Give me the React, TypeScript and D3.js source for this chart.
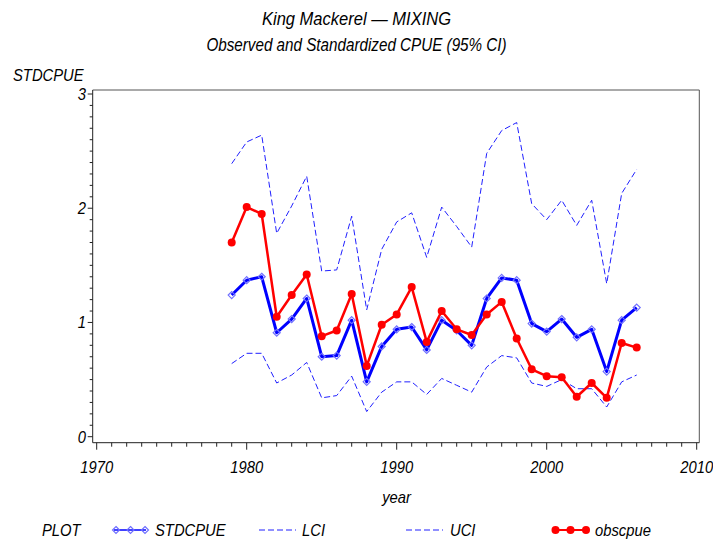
import React from 'react';
import * as d3 from 'd3';

const years = [1979, 1980, 1981, 1982, 1983, 1984, 1985, 1986, 1987, 1988, 1989, 1990, 1991, 1992,
  1993, 1994, 1995, 1996, 1997, 1998, 1999, 2000, 2001, 2002, 2003, 2004, 2005, 2006];
const stdcpue = [1.24, 1.37, 1.40, 0.91, 1.03, 1.21, 0.70, 0.71, 1.02, 0.48, 0.79, 0.94, 0.96, 0.76,
  1.02, 0.93, 0.80, 1.21, 1.39, 1.37, 0.99, 0.92, 1.03, 0.87, 0.94, 0.57, 1.02, 1.13];
const lci = [0.64, 0.73, 0.73, 0.47, 0.54, 0.65, 0.34, 0.36, 0.53, 0.22, 0.39, 0.48, 0.48, 0.37,
  0.51, 0.45, 0.39, 0.61, 0.71, 0.69, 0.47, 0.44, 0.50, 0.42, 0.42, 0.26, 0.48, 0.54];
const uci = [2.39, 2.58, 2.64, 1.78, 2.02, 2.28, 1.45, 1.46, 1.93, 1.11, 1.64, 1.88, 1.96, 1.57,
  2.01, 1.84, 1.66, 2.48, 2.68, 2.75, 2.04, 1.90, 2.07, 1.85, 2.07, 1.34, 2.13, 2.34];
const obscpue = [1.70, 2.01, 1.95, 1.05, 1.24, 1.42, 0.88, 0.93, 1.25, 0.62, 0.98, 1.07, 1.31, 0.83,
  1.10, 0.94, 0.89, 1.07, 1.18, 0.86, 0.59, 0.53, 0.52, 0.35, 0.47, 0.34, 0.82, 0.78];
const xTicks = [1970, 1980, 1990, 2000, 2010];
const yTicks = [0, 1, 2, 3];
const titleText = 'King Mackerel \u2014 MIXING';
const subtitleText = 'Observed and Standardized CPUE (95% CI)';
const yLabel = 'STDCPUE';
const xLabel = 'year';
const legendItems = ['STDCPUE', 'LCI', 'UCI', 'obscpue'];

const FONT = '"Liberation Sans", Arial, sans-serif';
const SX = 0.87;

function T({ x, y, size, anchor = 'start', children }: any) {
  return (
    <text
      transform={`translate(${x},${y}) scale(${SX},1)`}
      fontFamily={FONT}
      fontStyle="italic"
      fontSize={size}
      textAnchor={anchor}
      fill="#000"
    >
      {children}
    </text>
  );
}

function Diamond({ x, y }: { x: number; y: number }) {
  const s = 3.5;
  return (
    <path
      d={`M${x},${y - s}L${x + s},${y}L${x},${y + s}L${x - s},${y}Z`}
      fill="none"
      stroke="#7070ff"
      strokeWidth={1.2}
    />
  );
}

export default function App() {
  const W = 713;
  const H = 541;
  const frameL = 92.7, frameR = 699.3, frameT = 90, frameB = 442.7;
  const x = d3.scaleLinear().domain([1970, 2010]).range([96.7, 696.7]);
  const y = d3.scaleLinear().domain([0, 3]).range([436.7, 94]);

  const line = (vals: number[]) =>
    d3.line<number>().x((_, i) => x(years[i])).y((v) => y(v))(vals) || '';

  const minorX = d3.range(1970, 2011, 1);
  const minorY = d3.range(0, 31, 1).map((v) => v / 10);

  const legY = 530;

  return (
    <svg width={W} height={H} style={{ position: 'absolute', left: 0, top: 0, background: '#fff' }}>
      <rect x={0} y={0} width={W} height={H} fill="#fff" />
      <T x={356.5} y={25} size={19} anchor="middle">{titleText}</T>
      <T x={356.5} y={51} size={17.5} anchor="middle">{subtitleText}</T>
      <T x={13} y={81} size={17}>{yLabel}</T>

      {/* frame */}
      <line x1={frameL} y1={frameT} x2={frameR} y2={frameT} stroke="#555" strokeWidth={1} />
      <line x1={frameR} y1={frameT} x2={frameR} y2={frameB} stroke="#555" strokeWidth={1} />
      <line x1={frameL} y1={frameT} x2={frameL} y2={frameB} stroke="#222" strokeWidth={1} />
      <line x1={frameL} y1={frameB} x2={frameR} y2={frameB} stroke="#222" strokeWidth={1} />

      {/* y ticks */}
      {minorY.map((v) => {
        const major = Math.abs(v - Math.round(v)) < 1e-6;
        return (
          <line key={'yt' + v} x1={frameL - (major ? 5 : 3)} x2={frameL} y1={y(v)} y2={y(v)} stroke="#222" strokeWidth={1} />
        );
      })}
      {yTicks.map((v) => (
        <T key={'yl' + v} x={86} y={y(v) + 6} size={17} anchor="end">{v}</T>
      ))}

      {/* x ticks */}
      {minorX.map((v) => {
        const major = v % 10 === 0;
        return (
          <line key={'xt' + v} x1={x(v)} x2={x(v)} y1={frameB} y2={frameB + (major ? 7 : 4)} stroke="#222" strokeWidth={1} />
        );
      })}
      {xTicks.map((v) => (
        <T key={'xl' + v} x={x(v)} y={473} size={17} anchor="middle">{v}</T>
      ))}
      <T x={396.5} y={503} size={17} anchor="middle">{xLabel}</T>

      {/* data */}
      <path d={line(stdcpue)} fill="none" stroke="#0000ff" strokeWidth={3} strokeLinejoin="round" />
      {stdcpue.map((v, i) => (
        <Diamond key={'d' + i} x={x(years[i])} y={y(v)} />
      ))}
      <path d={line(lci)} fill="none" stroke="#2020ff" strokeWidth={1} strokeDasharray="6,3" />
      <path d={line(uci)} fill="none" stroke="#2020ff" strokeWidth={1} strokeDasharray="6,3" />
      <path d={line(obscpue)} fill="none" stroke="#ff0000" strokeWidth={2.5} strokeLinejoin="round" />
      {obscpue.map((v, i) => (
        <circle key={'c' + i} cx={x(years[i])} cy={y(v)} r={4} fill="#ff0000" />
      ))}

      {/* legend */}
      <T x={42} y={legY + 6} size={17}>PLOT</T>
      <line x1={114} x2={146} y1={legY} y2={legY} stroke="#0000ff" strokeWidth={1.5} />
      {[116, 130.5, 145].map((lx) => (
        <Diamond key={'ld' + lx} x={lx} y={legY} />
      ))}
      <T x={155} y={legY + 6} size={17}>{legendItems[0]}</T>
      <line x1={259} x2={296} y1={legY} y2={legY} stroke="#2020ff" strokeWidth={1} strokeDasharray="6,3" />
      <T x={302} y={legY + 6} size={17}>{legendItems[1]}</T>
      <line x1={406} x2={443} y1={legY} y2={legY} stroke="#2020ff" strokeWidth={1} strokeDasharray="6,3" />
      <T x={450} y={legY + 6} size={17}>{legendItems[2]}</T>
      <line x1={555} x2={586} y1={legY} y2={legY} stroke="#ff0000" strokeWidth={2} />
      {[555.5, 570.5, 586].map((lx) => (
        <circle key={'lc' + lx} cx={lx} cy={legY} r={4} fill="#ff0000" />
      ))}
      <T x={595} y={legY + 6} size={17}>{legendItems[3]}</T>
    </svg>
  );
}
